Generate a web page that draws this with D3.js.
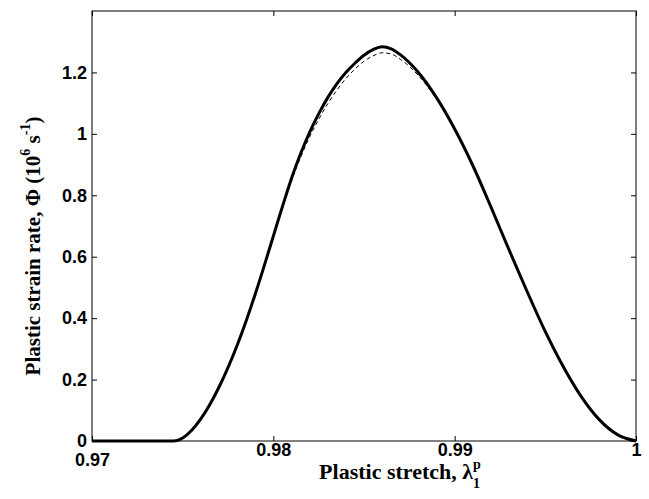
<!DOCTYPE html>
<html>
<head>
<meta charset="utf-8">
<script src="https://cdn.jsdelivr.net/npm/d3@7"></script>
<style>
  html, body { margin: 0; padding: 0; background: #fff; }
  svg { display: block; }
</style>
</head>
<body>
<svg id="chart" width="649" height="499"></svg>
<script>
// ---- data ----
const stretch = [0.9700, 0.9745, 0.9750, 0.9755, 0.9760, 0.9765, 0.9770, 0.9775, 0.9780, 0.9785,
                 0.9790, 0.9795, 0.9800, 0.9805, 0.9810, 0.9815, 0.9820, 0.9825, 0.9830, 0.9835,
                 0.9840, 0.9845, 0.9850, 0.9855, 0.9860, 0.9865, 0.9870, 0.9880, 0.9890, 0.9900,
                 0.9910, 0.9920, 0.9930, 0.9940, 0.9950, 0.9960, 0.9970, 0.9980, 0.9990, 1.0000];
const phiSolid = [0, 0, 0.010, 0.035, 0.072, 0.119, 0.175, 0.239, 0.311, 0.391,
                  0.478, 0.571, 0.667, 0.763, 0.855, 0.935, 1.005, 1.065, 1.118, 1.163,
                  1.200, 1.230, 1.256, 1.274, 1.284, 1.277, 1.258, 1.200, 1.118, 1.016,
                  0.897, 0.762, 0.622, 0.486, 0.356, 0.241, 0.143, 0.068, 0.020, 0];
const phiDashed = [0, 0, 0.010, 0.035, 0.072, 0.119, 0.175, 0.239, 0.311, 0.391,
                   0.478, 0.570, 0.664, 0.757, 0.846, 0.923, 0.990, 1.047, 1.098, 1.142,
                   1.180, 1.211, 1.236, 1.254, 1.264, 1.260, 1.243, 1.190, 1.113, 1.014,
                   0.897, 0.762, 0.622, 0.486, 0.356, 0.241, 0.143, 0.068, 0.020, 0];
const xTicks = [0.97, 0.98, 0.99, 1];
const xTickLabels = ["0.97", "0.98", "0.99", "1"];
const yTicks = [0, 0.2, 0.4, 0.6, 0.8, 1, 1.2];
const yTickLabels = ["0", "0.2", "0.4", "0.6", "0.8", "1", "1.2"];

// ---- layout ----
const svg = d3.select("#chart");
const pL = 92, pR = 636, pT = 11, pB = 441;
const x = d3.scaleLinear().domain([0.97, 1]).range([pL, pR]);
const y = d3.scaleLinear().domain([0, 1.4]).range([pB, pT]);
const tickFont = "'Liberation Sans', Arial, Helvetica, sans-serif";
const labelFont = "'Liberation Serif', 'Times New Roman', serif";

// frame
svg.append("rect")
  .attr("x", pL).attr("y", pT)
  .attr("width", pR - pL).attr("height", pB - pT)
  .attr("fill", "none").attr("stroke", "#000").attr("stroke-width", 1);

// axes with inward ticks
const tickLen = 5;
const gx = svg.append("g").attr("transform", `translate(0,${pB})`)
  .call(d3.axisBottom(x).tickValues(xTicks).tickSizeInner(-tickLen).tickSizeOuter(0)
        .tickPadding(2).tickFormat((d, i) => xTickLabels[i]));
const gxt = svg.append("g").attr("transform", `translate(0,${pT})`)
  .call(d3.axisTop(x).tickValues(xTicks).tickSizeInner(-tickLen).tickSizeOuter(0).tickFormat(""));
const gy = svg.append("g").attr("transform", `translate(${pL},0)`)
  .call(d3.axisLeft(y).tickValues(yTicks).tickSizeInner(-tickLen).tickSizeOuter(0)
        .tickPadding(5).tickFormat((d, i) => yTickLabels[i]));
const gyr = svg.append("g").attr("transform", `translate(${pR},0)`)
  .call(d3.axisRight(y).tickValues(yTicks).tickSizeInner(-tickLen).tickSizeOuter(0).tickFormat(""));

[gx, gxt, gy, gyr].forEach(g => {
  g.select(".domain").remove();
  g.selectAll("line").attr("stroke", "#000").attr("stroke-width", 1);
  g.selectAll("text").attr("font-family", tickFont).attr("font-size", 18)
    .attr("font-weight", "bold").attr("fill", "#000");
});
// the first x label sits a little lower in the reference
gx.selectAll("text").filter((d, i) => i === 0).attr("dy", "1.3em");

// curves
const line = (vals) => d3.line()
  .x((d, i) => x(stretch[i]))
  .y((d) => y(d))
  .curve(d3.curveMonotoneX)(vals);

svg.append("path")
  .attr("d", line(phiDashed))
  .attr("fill", "none").attr("stroke", "#000").attr("stroke-width", 1)
  .attr("stroke-dasharray", "4,3");
svg.append("path")
  .attr("d", line(phiSolid))
  .attr("fill", "none").attr("stroke", "#000").attr("stroke-width", 3)
  .attr("stroke-linejoin", "round");

// x label
const xl = svg.append("text")
  .attr("x", 400).attr("y", 479)
  .attr("text-anchor", "middle")
  .attr("font-family", labelFont).attr("font-weight", "bold").attr("font-size", 22)
  .attr("fill", "#000");
xl.append("tspan").text("Plastic stretch, \u03BB");
xl.append("tspan").attr("font-size", 14).attr("dy", -10).text("p");
xl.append("tspan").attr("font-size", 14).attr("dx", -8).attr("dy", 19).text("1");

// y label
const yl = svg.append("text")
  .attr("transform", `translate(40,${(pT + pB) / 2 + 20}) rotate(-90)`)
  .attr("text-anchor", "middle")
  .attr("font-family", labelFont).attr("font-weight", "bold").attr("font-size", 21)
  .attr("fill", "#000");
yl.append("tspan").text("Plastic strain rate, \u03A6 (10");
yl.append("tspan").attr("font-size", 14).attr("dy", -10).text("6");
yl.append("tspan").attr("dy", 10).text(" s");
yl.append("tspan").attr("font-size", 14).attr("dy", -10).text("-1");
yl.append("tspan").attr("dy", 10).text(")");
</script>
</body>
</html>
